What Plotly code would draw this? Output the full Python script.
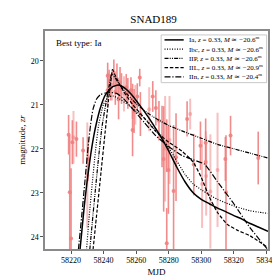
import plotly.graph_objects as go

# ---- observations (MJD, magnitude, error) ----
obs_mjd = [58218.5, 58219.2, 58220.0, 58220.8, 58223.3, 58227.4, 58230.4,
           58242.5, 58243.4, 58244.4, 58246.3, 58248.2, 58242.5, 58249.2, 58250.1,
           58247.2, 58251.0, 58253.9, 58254.9, 58256.8, 58257.8, 58258.7, 58260.7,
           58262.2, 58257.8, 58262.6, 58270.2, 58272.1, 58274.0, 58275.9, 58276.9,
           58278.8, 58279.8, 58284.5, 58283.0, 58278.8, 58291.3, 58295.4, 58299.5,
           58302.7, 58302.7, 58314.8, 58315.2, 58318.0, 58335.0]
obs_mag = [21.68, 22.99, 24.04, 21.85, 21.78, 22.04, 22.23,
           20.34, 20.45, 20.60, 20.27, 20.41, 20.67, 20.88, 20.49,
           20.70, 20.63, 20.60, 20.74, 20.67, 20.92, 21.14, 20.81,
           20.38, 21.57, 21.21, 20.81, 21.07, 21.36, 21.72, 22.23,
           21.93, 22.48, 22.19, 22.96, 24.15, 21.32, 22.36, 21.93,
           21.86, 22.30, 22.23, 22.99, 21.70, 22.21]
obs_err = [0.45, 1.30, 1.60, 0.50, 0.40, 0.30, 0.50,
           0.30, 0.25, 0.30, 0.30, 0.35, 0.40, 0.45, 0.35,
           0.30, 0.35, 0.30, 0.35, 0.30, 0.40, 0.50, 0.30,
           0.20, 0.60, 0.50, 0.35, 0.40, 0.45, 0.70, 1.20,
           0.60, 1.00, 1.00, 1.50, 0.80, 0.40, 0.70, 0.55,
           0.55, 0.70, 0.50, 1.30, 0.45, 0.60]

light_mjd = [58221.5, 58230.0, 58245.2, 58252.5, 58259.5, 58268.0, 58277.8,
             58280.5, 58293.2, 58300.5, 58305.6, 58310.0, 58303.0]
light_mag = [21.74, 22.60, 20.55, 20.75, 21.00, 21.10, 22.00,
             21.80, 21.21, 22.80, 22.97, 22.48, 22.62]
light_err = [0.60, 1.20, 0.35, 0.40, 0.45, 0.50, 1.20,
             1.00, 0.35, 1.00, 1.30, 1.30, 0.90]

# ---- model curves ----
ia_mjd = [58225.5, 58228, 58230, 58232, 58234, 58236, 58238, 58241, 58245, 58249, 58253, 58257,
          58261, 58265, 58270, 58275, 58280, 58285, 58290, 58295, 58300, 58305,
          58310, 58315, 58320, 58325, 58330, 58335, 58341]
ia_mag = [24.3, 23.35, 22.7, 22.15, 21.7, 21.35, 21.07, 20.78, 20.6, 20.55, 20.62, 20.76,
          20.95, 21.15, 21.42, 21.72, 22.05, 22.42, 22.75, 23.0, 23.15, 23.25,
          23.35, 23.43, 23.52, 23.6, 23.7, 23.78, 23.88]

ibc_mjd = [58229.5, 58231, 58233, 58235, 58237, 58240, 58243, 58246, 58250, 58255, 58260,
           58265, 58270, 58275, 58280, 58285, 58290, 58295, 58300, 58305, 58310,
           58315, 58320, 58325, 58330, 58335, 58341]
ibc_mag = [24.3, 23.6, 22.8, 22.05, 21.45, 20.98, 20.82, 20.8, 20.87, 21.0, 21.15,
           21.3, 21.5, 21.72, 21.98, 22.28, 22.58, 22.8, 22.93, 23.05, 23.15,
           23.23, 23.3, 23.36, 23.41, 23.44, 23.47]

iip_mjd = [58231.5, 58234, 58236.5, 58239, 58241.5, 58243.5, 58245, 58247, 58250, 58255, 58260,
           58265, 58270, 58275, 58280, 58290, 58300, 58310, 58320, 58330, 58341]
iip_mag = [24.3, 23.3, 22.35, 21.5, 20.95, 20.55, 20.3, 20.38, 20.55, 20.78, 20.97,
           21.13, 21.26, 21.37, 21.47, 21.62, 21.76, 21.9, 22.0, 22.1, 22.21]

iil_mjd = [58233.5, 58236, 58238.5, 58241, 58243, 58244.5, 58245.5, 58248, 58252, 58258, 58265,
           58272, 58280, 58288, 58295, 58300, 58305, 58310, 58316, 58322, 58330, 58341]
iil_mag = [24.3, 23.4, 22.5, 21.6, 20.9, 20.45, 20.2, 20.4, 20.68, 21.0, 21.3,
           21.6, 21.85, 22.05, 22.3, 22.65, 23.1, 23.45, 23.72, 23.85, 23.98, 24.25]

iin_mjd = [58224.5, 58226.5, 58228.5, 58230.5, 58232, 58233.5, 58235.5, 58238, 58241, 58244,
           58248, 58252, 58258, 58265, 58272, 58280, 58288, 58295, 58302, 58310, 58320,
           58330, 58341]
iin_mag = [24.3, 23.55, 22.75, 21.95, 21.45, 21.1, 20.88, 20.77, 20.73, 20.72,
           20.74, 20.85, 21.1, 21.4, 21.7, 21.95, 22.15, 22.25, 22.35, 22.75, 23.25,
           23.8, 24.3]

labels = ["Ia, <i>z</i> = 0.33, <i>M</i> ≃ −20.6<sup>m</sup>",
          "Ibc, <i>z</i> = 0.33, <i>M</i> ≃ −20.6<sup>m</sup>",
          "IIP, <i>z</i> = 0.33, <i>M</i> ≃ −20.6<sup>m</sup>",
          "IIL, <i>z</i> = 0.33, <i>M</i> ≃ −20.9<sup>m</sup>",
          "IIn, <i>z</i> = 0.33, <i>M</i> ≃ −20.4<sup>m</sup>"]

FONT = "Liberation Serif"
fig = go.Figure()

fig.add_trace(go.Scatter(
    x=light_mjd, y=light_mag, mode="markers",
    marker=dict(color="rgba(240,128,128,0.5)", size=4),
    error_y=dict(type="data", array=light_err, color="rgba(240,128,128,0.5)",
                 thickness=2, width=0),
    showlegend=False, hoverinfo="skip"))
fig.add_trace(go.Scatter(
    x=obs_mjd, y=obs_mag, mode="markers",
    marker=dict(color="rgba(240,128,128,0.9)", size=4),
    error_y=dict(type="data", array=obs_err, color="rgba(240,128,128,0.9)",
                 thickness=1.6, width=0),
    showlegend=False, hoverinfo="skip"))

styles = [("solid", 1.5), ("1px,1.5px", 1.2), ("4px,1.2px,1px,1.2px,1px,1.2px", 1.2),
          ("3.5px,1.8px", 1.2), ("6px,1.8px,1.2px,1.8px", 1.2)]
curves = [(ia_mjd, ia_mag), (ibc_mjd, ibc_mag), (iip_mjd, iip_mag),
          (iil_mjd, iil_mag), (iin_mjd, iin_mag)]
for (cx, cy), (dash, w), name in zip(curves, styles, labels):
    fig.add_trace(go.Scatter(x=cx, y=cy, mode="lines", name=name, showlegend=False,
                             line=dict(color="black", width=w, dash=dash, shape="spline",
                                       smoothing=0.5)))

# ---- manual legend (compact, like the reference) ----
shapes = [dict(type="rect", xref="paper", yref="paper", x0=0.521, x1=0.994,
               y0=0.763, y1=0.982, line=dict(color="#c8c8c8", width=1),
               fillcolor="rgba(255,255,255,0.85)", layer="above")]
row_y = [1 - (r - 23) / 228 for r in (32.3, 42.0, 51.7, 61.3, 71.0)]
annotations = []
for yy, (dash, w), name in zip(row_y, styles, labels):
    shapes.append(dict(type="line", xref="paper", yref="paper", x0=0.536, x1=0.622,
                       y0=yy, y1=yy, line=dict(color="black", width=w, dash=dash),
                       layer="above"))
    annotations.append(dict(x=0.636, y=yy, xref="paper", yref="paper", xanchor="left",
                            yanchor="middle", text=name, showarrow=False,
                            font=dict(family=FONT, size=7, color="black")))

annotations.append(dict(x=0.04, y=0.975, xref="paper", yref="paper", xanchor="left",
                        yanchor="top", text="Best type: Ia", showarrow=False,
                        font=dict(family=FONT, size=9, color="black")))

axis_common = dict(showline=True, linecolor="#8a8a8a", linewidth=1.5, mirror=True,
                   showgrid=False, zeroline=False, ticks="outside", ticklen=3,
                   tickcolor="#555", tickfont=dict(family=FONT, size=8, color="black"))

fig.update_layout(
    width=280, height=280,
    margin=dict(l=28, r=14, t=23, b=29),
    paper_bgcolor="white", plot_bgcolor="white",
    title=dict(text="SNAD189", x=0.52, xanchor="center", y=0.975, yanchor="top",
               font=dict(family=FONT, size=11, color="black", weight="normal")),
    xaxis=dict(range=[58204, 58341], tickvals=[58220, 58240, 58260, 58280, 58300, 58320, 58340],
               tickformat="d",
               title=dict(text="MJD", font=dict(family=FONT, size=9, color="black"), standoff=4),
               **axis_common),
    yaxis=dict(range=[24.28, 19.32], tickvals=[20, 21, 22, 23, 24],
               title=dict(text="magnitude, <i>zr</i>", font=dict(family=FONT, size=9, color="black"),
                          standoff=4),
               **axis_common),
    shapes=shapes,
    annotations=annotations,
    showlegend=False,
)

fig.write_html("out.html")
